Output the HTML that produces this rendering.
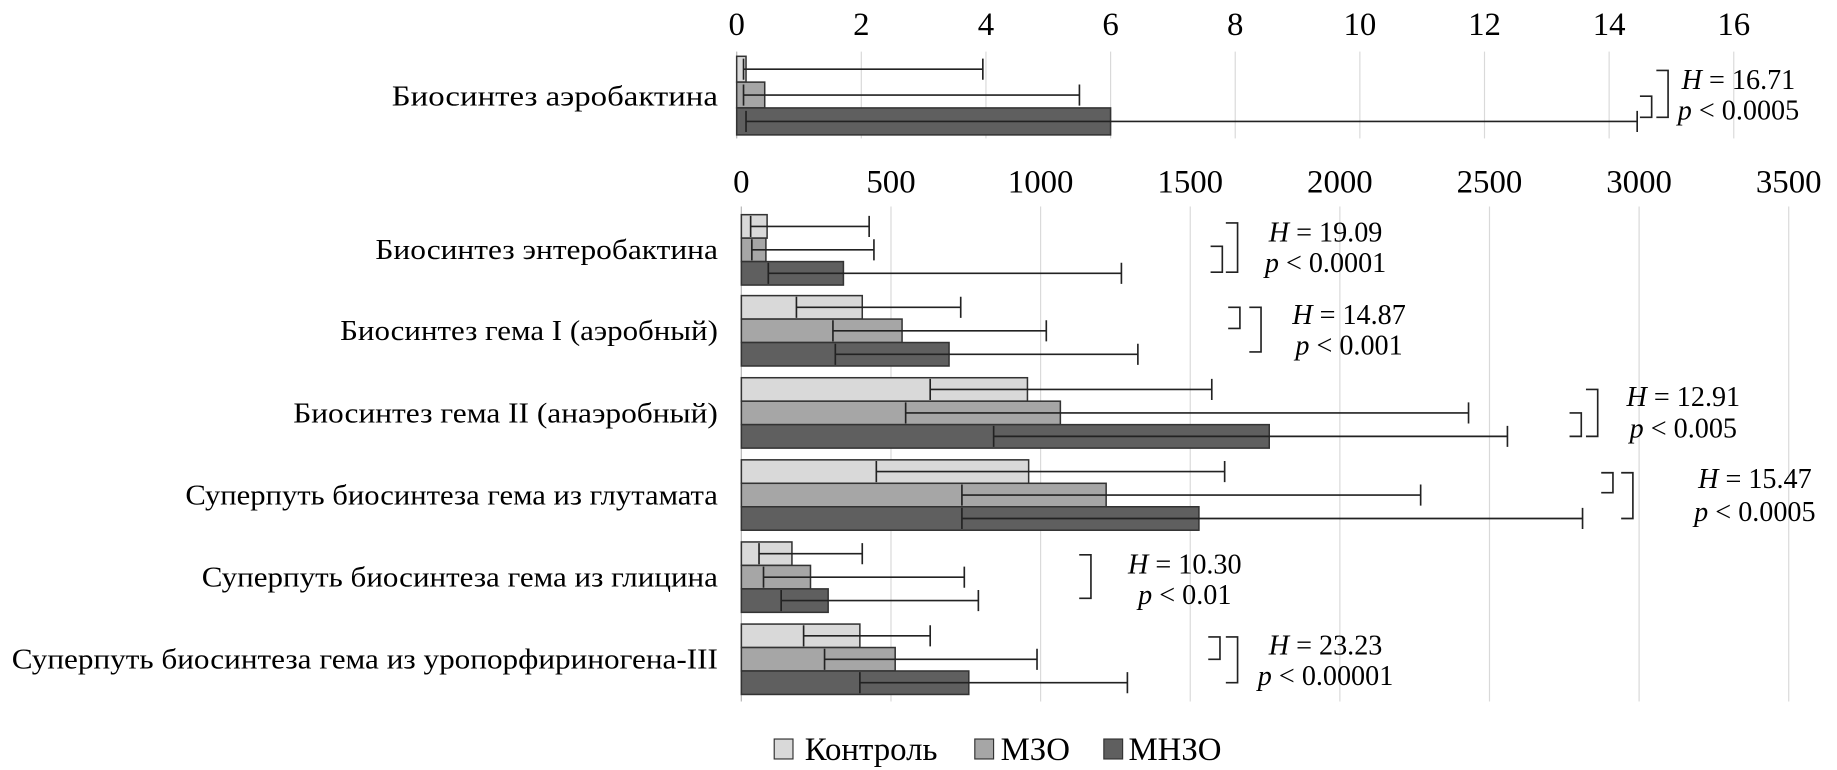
<!DOCTYPE html>
<html><head><meta charset="utf-8"><style>
html,body{margin:0;padding:0;background:#fff;}
svg{display:block;font-family:"Liberation Serif","DejaVu Serif",serif;}
</style></head><body>
<svg id="chart" width="1837" height="770" viewBox="0 0 1566 656.4" xmlns="http://www.w3.org/2000/svg"></svg>
<script>
// ---- data ----
const topCategory = ["Биосинтез аэробактина"];
const topCtrl = [0.15], topCtrlLo = [0.11], topCtrlHi = [3.95];
const topMzo = [0.45], topMzoLo = [0.11], topMzoHi = [5.5];
const topMnzo = [6.0], topMnzoLo = [0.15], topMnzoHi = [14.45];
const topTicks = [0,2,4,6,8,10,12,14,16];

const categories = ["Биосинтез энтеробактина","Биосинтез гема I (аэробный)","Биосинтез гема II (анаэробный)","Суперпуть биосинтеза гема из глутамата","Суперпуть биосинтеза гема из глицина","Суперпуть биосинтеза гема из уропорфириногена-III"];
const ctrlVals = [86,404,956,960,169,396];
const ctrlLo = [31,184,631,451,59,208];
const ctrlHi = [427,733,1572,1615,404,631];
const mzoVals = [82,537,1066,1219,231,514];
const mzoLo = [35,306,549,737,74,278];
const mzoHi = [443,1019,2430,2270,745,988];
const mnzoVals = [341,694,1764,1529,290,760];
const mnzoLo = [90,314,843,737,133,396];
const mnzoHi = [1270,1325,2560,2811,792,1290];
const bottomTicks = [0,500,1000,1500,2000,2500,3000,3500];
const hLabels = ["16.71","19.09","14.87","12.91","15.47","10.30","23.23"];
const pLabels = ["< 0.0005","< 0.0001","< 0.001","< 0.005","< 0.0005","< 0.01","< 0.00001"];
// ---- layout ----
const svg = document.getElementById('chart');
const NS = "http://www.w3.org/2000/svg";
function mk(tag, attrs, parent){const e=document.createElementNS(NS,tag);for(const k in attrs)e.setAttribute(k,attrs[k]);(parent||svg).appendChild(e);return e;}
const xTop = v => 628 + v*53.125;
const xBot = v => 632 + v*0.2551;
const colors = ["#d9d9d9","#a6a6a6","#5f5f5f"];
const labelLen = [292,322,362,454,440,602];

topTicks.forEach(t=>{
  const g=mk('line',{x1:xTop(t),x2:xTop(t),y1:44,y2:118,stroke:'#d9d9d9','stroke-width':1});
   
  const tx=mk('text',{x:xTop(t),y:30,'text-anchor':'middle','font-size':28});
  tx.textContent=t;
   
});
bottomTicks.forEach(t=>{
  const g=mk('line',{x1:xBot(t),x2:xBot(t),y1:176,y2:598,stroke:'#d9d9d9','stroke-width':1});
   
  const tx=mk('text',{x:xBot(t),y:164,'text-anchor':'middle','font-size':28});
  tx.textContent=t;
   
});
mk('line',{x1:628,x2:628,y1:44,y2:118,stroke:'#bbb'});
mk('line',{x1:632,x2:632,y1:176,y2:598,stroke:'#bbb'});

function drawBar(xf,val,lo,hi,y,h,color,name){
  const r=mk('rect',{x:xf(0),y:y,width:Math.max(0,xf(val)-xf(0)),height:h,fill:color,stroke:'#333','stroke-width':1.3});
   
  const cy=y+h/2;
  const e=mk('path',{d:`M${xf(lo)},${cy}H${xf(hi)}M${xf(lo)},${cy-9}V${cy+9}M${xf(hi)},${cy-9}V${cy+9}`,stroke:'#222','stroke-width':1.4,fill:'none'});
   
}
function bracket(x,y1,y2,w){
  const b=mk('path',{d:`M${x-w},${y1}H${x}V${y2}H${x-w}`,stroke:'#222','stroke-width':1.4,fill:'none'});
   
}
function stat(i,cx,y1,y2){
  const t=mk('text',{x:cx,y:y1,'text-anchor':'middle','font-size':24});
  t.innerHTML='<tspan font-style="italic">H</tspan> = '+hLabels[i];
   
  const p=mk('text',{x:cx,y:y2,'text-anchor':'middle','font-size':24});
  p.innerHTML='<tspan font-style="italic">p</tspan> '+pLabels[i].replace('<','&lt;');
   
}

const tl=mk('text',{x:612,y:90,'text-anchor':'end','font-size':24,textLength:278,lengthAdjust:'spacingAndGlyphs'});
tl.textContent=topCategory[0];
 
drawBar(xTop,topCtrl[0],topCtrlLo[0],topCtrlHi[0],48,22,colors[0],'bar-aerobactin-control');
drawBar(xTop,topMzo[0],topMzoLo[0],topMzoHi[0],70,22,colors[1],'bar-aerobactin-mzo');
drawBar(xTop,topMnzo[0],topMnzoLo[0],topMnzoHi[0],92,23,colors[2],'bar-aerobactin-mnzo');
bracket(1422,60,100,10); bracket(1408,82,100,10);
stat(0,1482,76,102);

const starts=[183,252,322,392,462,532];
categories.forEach((c,i)=>{
  const y=starts[i];
  const t=mk('text',{x:612,y:y+38,'text-anchor':'end','font-size':24,textLength:labelLen[i],lengthAdjust:'spacingAndGlyphs'});
  t.textContent=c;
   
  drawBar(xBot,ctrlVals[i],ctrlLo[i],ctrlHi[i],y,20,colors[0],'bar-control-'+i);
  drawBar(xBot,mzoVals[i],mzoLo[i],mzoHi[i],y+20,20,colors[1],'bar-mzo-'+i);
  drawBar(xBot,mnzoVals[i],mnzoLo[i],mnzoHi[i],y+40,20,colors[2],'bar-mnzo-'+i);
});
bracket(1055,190,232,10); bracket(1042,210,232,10); stat(1,1130,206,232);
bracket(1057,262,280,10); bracket(1075,262,300,10); stat(2,1150,276,302);
bracket(1362,332,372,10); bracket(1348,352,372,10); stat(3,1435,346,373);
bracket(1375,403,420,10); bracket(1392,403,442,10); stat(4,1496,416,444);
bracket(930,473,510,10); stat(5,1010,489,515);
bracket(1040,543,562,10); bracket(1055,543,582,10); stat(6,1130,558,584);

const legItems=[["Контроль",660,686],["МЗО",831,853],["МНЗО",941,962]];
legItems.forEach((l,i)=>{
  const s=mk('rect',{x:l[1],y:630,width:16,height:17,fill:colors[i],stroke:'#333','stroke-width':1});
   
  const t=mk('text',{x:l[2],y:648,'font-size':28});
  t.textContent=l[0];
   
});
</script>
</body></html>
